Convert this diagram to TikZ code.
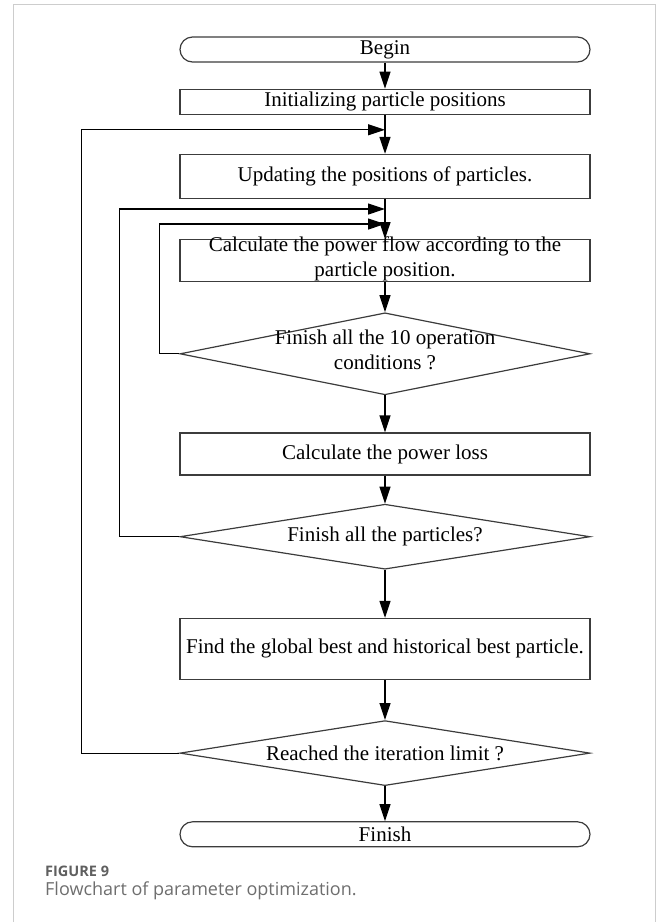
\documentclass[tikz,border=0pt]{standalone}
\usepackage{fontspec}
\setmainfont{Liberation Serif}
\newfontfamily\capfont{Open Sans}
\usepackage{tikz}
\usetikzlibrary{shapes.geometric, positioning, arrows.meta}
\definecolor{fcLine}{RGB}{60,60,60}
\definecolor{fcFrame}{RGB}{205,205,205}
\definecolor{fcCapHead}{RGB}{95,95,95}
\definecolor{fcCapText}{RGB}{110,110,110}

\begin{document}
\begin{tikzpicture}[x=1pt, y=1pt, node distance=26pt, font=\fontsize{21}{25}\selectfont,
    term/.style={draw=fcLine, line width=1.2pt, rounded corners=12.5pt, minimum width=410pt, minimum height=25pt, inner sep=0pt},
    proc/.style={draw=fcLine, line width=1.2pt, minimum width=410pt, inner sep=0pt},
    decision/.style={diamond, draw=fcLine, line width=1.2pt, minimum width=410pt, inner sep=0pt},
    flow/.style={-{Triangle[length=17pt, width=11pt]}, line width=1.2pt},
    back/.style={line width=1.2pt}]
      \useasboundingbox (0,0) rectangle (656,-922);
      \draw[fcFrame, line width=1pt] (13,-930) -- (13,-4) -- (655,-4) -- (655,-930);

      \node[term] (begin) at (385,-49.5) {Begin};
      \node[proc, below=26pt of begin, minimum height=25pt] (init) {Initializing particle positions};
      \node[proc, below=39pt of init, minimum height=44pt] (upd) {Updating the positions of particles.};
      \node[proc, below=40pt of upd, minimum height=42pt, label={[align=center, yshift=2pt]center:Calculate the power flow according to the\\particle position.}] (pf) {};
      \node[decision, below=30pt of pf, minimum height=82pt, label={[align=center, yshift=4pt]center:Finish all the 10 operation\\conditions ?}] (cond) {};
      \node[proc, below=37pt of cond, minimum height=42pt] (loss) {Calculate the power loss};
      \node[decision, below=28pt of loss, minimum height=65pt, label={center:Finish all the particles?}] (part) {};
      \node[proc, below=48pt of part, minimum height=61pt] (best) {Find the global best and historical best particle.};
      \node[decision, below=40pt of best, minimum height=65pt, label={center:Reached the iteration limit ?}] (iter) {};
      \node[term, below=35pt of iter] (finish) {Finish};

      \coordinate[below=15pt of init] (jIter);
      \coordinate[below=10pt of upd] (jPart);
      \coordinate[below=25pt of upd] (jCond);

      \draw[flow] (begin) -- (init);
      \draw[flow] (init) -- (upd);
      \draw[flow] (upd) -- (pf);
      \draw[flow] (pf) -- (cond);
      \draw[flow] (cond) -- (loss);
      \draw[flow] (loss) -- (part);
      \draw[flow] (part) -- (best);
      \draw[flow] (best) -- (iter);
      \draw[flow] (iter) -- (finish);

      % loops back to the main line
      \draw[back] (cond.west) -- ++(-20,0) coordinate (kCond);
      \draw[flow] (kCond) |- (jCond);
      \draw[back] (part.west) -- ++(-60,0) coordinate (kPart);
      \draw[flow] (kPart) |- (jPart);
      \draw[back] (iter.west) -- ++(-98,0) coordinate (kIter);
      \draw[flow] (kIter) |- (jIter);

      \node[anchor=base west, font=\capfont\bfseries\fontsize{14.5}{17}\selectfont, text=fcCapHead, inner sep=0pt] (fighead) at (45,-876) {FIGURE 9};
      \node[anchor=base west, font=\capfont\fontsize{18}{21}\selectfont, text=fcCapText, inner sep=0pt] (figtext) at (45,-895) {Flowchart of parameter optimization.};
    \end{tikzpicture}
\end{document}
